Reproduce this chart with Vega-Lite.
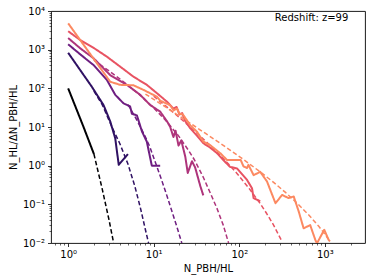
{
  "$schema": "https://vega.github.io/schema/vega-lite/v6.json",
  "width": 314,
  "height": 232,
  "autosize": {"type": "none"},
  "padding": {"left": 51, "top": 11, "right": 9, "bottom": 37},
  "background": "white",
  "config": {
    "view": {"stroke": "#000000", "strokeWidth": 0.9},
    "font": "DejaVu Sans",
    "axis": {"domain": false, "grid": false, "labelFont": "DejaVu Sans", "titleFont": "DejaVu Sans", "labelFontSize": 10, "titleFontSize": 10, "labelColor": "#000", "titleColor": "#000", "tickColor": "#000", "titleFontWeight": "normal"}
  },
  "datasets": {
    "ann": [{"label": "Redshift: z=99", "n": 1884, "v": 5510}]
  },
  "data": {
    "values": [
      {"s": "s0", "k": "sim", "n": 1, "v": 100}, {"s": "s0", "k": "sim", "n": 1.5, "v": 10.5}, {"s": "s0", "k": "sim", "n": 2, "v": 2},
      {"s": "s0", "k": "fit", "n": 2, "v": 2}, {"s": "s0", "k": "fit", "n": 2.5, "v": 0.25}, {"s": "s0", "k": "fit", "n": 3, "v": 0.04}, {"s": "s0", "k": "fit", "n": 3.4, "v": 0.01},

      {"s": "s1", "k": "sim", "n": 1, "v": 830}, {"s": "s1", "k": "sim", "n": 1.89, "v": 110}, {"s": "s1", "k": "sim", "n": 2.59, "v": 37}, {"s": "s1", "k": "sim", "n": 3.1, "v": 14}, {"s": "s1", "k": "sim", "n": 3.55, "v": 5.1}, {"s": "s1", "k": "sim", "n": 3.9, "v": 1.05}, {"s": "s1", "k": "sim", "n": 5, "v": 2},
      {"s": "s1", "k": "fit", "n": 2, "v": 85}, {"s": "s1", "k": "fit", "n": 2.5, "v": 38}, {"s": "s1", "k": "fit", "n": 3, "v": 15}, {"s": "s1", "k": "fit", "n": 3.5, "v": 7}, {"s": "s1", "k": "fit", "n": 4, "v": 3.8}, {"s": "s1", "k": "fit", "n": 5, "v": 1.1}, {"s": "s1", "k": "fit", "n": 6, "v": 0.3}, {"s": "s1", "k": "fit", "n": 7, "v": 0.08}, {"s": "s1", "k": "fit", "n": 8, "v": 0.022}, {"s": "s1", "k": "fit", "n": 8.7, "v": 0.01},

      {"s": "s2", "k": "sim", "n": 1, "v": 1380}, {"s": "s2", "k": "sim", "n": 1.38, "v": 760}, {"s": "s2", "k": "sim", "n": 1.98, "v": 400}, {"s": "s2", "k": "sim", "n": 2.83, "v": 166}, {"s": "s2", "k": "sim", "n": 3.55, "v": 68}, {"s": "s2", "k": "sim", "n": 4.43, "v": 41}, {"s": "s2", "k": "sim", "n": 5.3, "v": 34}, {"s": "s2", "k": "sim", "n": 5.56, "v": 22}, {"s": "s2", "k": "sim", "n": 6.36, "v": 20}, {"s": "s2", "k": "sim", "n": 7.3, "v": 7.6}, {"s": "s2", "k": "sim", "n": 8.3, "v": 4.2}, {"s": "s2", "k": "sim", "n": 9.5, "v": 1}, {"s": "s2", "k": "sim", "n": 11.9, "v": 1},
      {"s": "s2", "k": "fit", "n": 5, "v": 38}, {"s": "s2", "k": "fit", "n": 6, "v": 19}, {"s": "s2", "k": "fit", "n": 7, "v": 10}, {"s": "s2", "k": "fit", "n": 8, "v": 5.5}, {"s": "s2", "k": "fit", "n": 9, "v": 3.1}, {"s": "s2", "k": "fit", "n": 10, "v": 1.6}, {"s": "s2", "k": "fit", "n": 12, "v": 0.52}, {"s": "s2", "k": "fit", "n": 14, "v": 0.19}, {"s": "s2", "k": "fit", "n": 17, "v": 0.05}, {"s": "s2", "k": "fit", "n": 19, "v": 0.023}, {"s": "s2", "k": "fit", "n": 21.3, "v": 0.01},

      {"s": "s3", "k": "sim", "n": 1, "v": 2000}, {"s": "s3", "k": "sim", "n": 1.38, "v": 1090}, {"s": "s3", "k": "sim", "n": 1.98, "v": 600}, {"s": "s3", "k": "sim", "n": 3.1, "v": 220}, {"s": "s3", "k": "sim", "n": 4.86, "v": 123}, {"s": "s3", "k": "sim", "n": 6.95, "v": 68}, {"s": "s3", "k": "sim", "n": 9.1, "v": 37}, {"s": "s3", "k": "sim", "n": 11.9, "v": 25}, {"s": "s3", "k": "sim", "n": 14.3, "v": 14}, {"s": "s3", "k": "sim", "n": 15.6, "v": 10}, {"s": "s3", "k": "sim", "n": 17, "v": 5.5}, {"s": "s3", "k": "sim", "n": 18, "v": 8}, {"s": "s3", "k": "sim", "n": 19.5, "v": 3.3}, {"s": "s3", "k": "sim", "n": 21, "v": 4.5}, {"s": "s3", "k": "sim", "n": 23.4, "v": 1.7}, {"s": "s3", "k": "sim", "n": 25, "v": 0.65}, {"s": "s3", "k": "sim", "n": 28, "v": 1.3}, {"s": "s3", "k": "sim", "n": 30.5, "v": 0.9}, {"s": "s3", "k": "sim", "n": 35, "v": 0.3}, {"s": "s3", "k": "sim", "n": 38, "v": 0.17},
      {"s": "s3", "k": "fit", "n": 2, "v": 533}, {"s": "s3", "k": "fit", "n": 3, "v": 283}, {"s": "s3", "k": "fit", "n": 4, "v": 177}, {"s": "s3", "k": "fit", "n": 5, "v": 120}, {"s": "s3", "k": "fit", "n": 7, "v": 65}, {"s": "s3", "k": "fit", "n": 10, "v": 31}, {"s": "s3", "k": "fit", "n": 14, "v": 14.3}, {"s": "s3", "k": "fit", "n": 19.5, "v": 5.9}, {"s": "s3", "k": "fit", "n": 25.5, "v": 2.5}, {"s": "s3", "k": "fit", "n": 30, "v": 1.4}, {"s": "s3", "k": "fit", "n": 38, "v": 0.5}, {"s": "s3", "k": "fit", "n": 45.7, "v": 0.2}, {"s": "s3", "k": "fit", "n": 54.7, "v": 0.08}, {"s": "s3", "k": "fit", "n": 65, "v": 0.029}, {"s": "s3", "k": "fit", "n": 75, "v": 0.01},

      {"s": "s4", "k": "sim", "n": 1, "v": 3000}, {"s": "s4", "k": "sim", "n": 1.38, "v": 1780}, {"s": "s4", "k": "sim", "n": 2, "v": 1100}, {"s": "s4", "k": "sim", "n": 2.83, "v": 660}, {"s": "s4", "k": "sim", "n": 4.06, "v": 363}, {"s": "s4", "k": "sim", "n": 5.8, "v": 200}, {"s": "s4", "k": "sim", "n": 8.3, "v": 123}, {"s": "s4", "k": "sim", "n": 10.9, "v": 75}, {"s": "s4", "k": "sim", "n": 14.3, "v": 45}, {"s": "s4", "k": "sim", "n": 17, "v": 30}, {"s": "s4", "k": "sim", "n": 18.5, "v": 33}, {"s": "s4", "k": "sim", "n": 20, "v": 21}, {"s": "s4", "k": "sim", "n": 21.5, "v": 23}, {"s": "s4", "k": "sim", "n": 23, "v": 15}, {"s": "s4", "k": "sim", "n": 26.7, "v": 9.3}, {"s": "s4", "k": "sim", "n": 32, "v": 6}, {"s": "s4", "k": "sim", "n": 38, "v": 3.8}, {"s": "s4", "k": "sim", "n": 45, "v": 3.0}, {"s": "s4", "k": "sim", "n": 55, "v": 2.1}, {"s": "s4", "k": "sim", "n": 65, "v": 1.4}, {"s": "s4", "k": "sim", "n": 78, "v": 0.93}, {"s": "s4", "k": "sim", "n": 94, "v": 0.85}, {"s": "s4", "k": "sim", "n": 102, "v": 0.69}, {"s": "s4", "k": "sim", "n": 123, "v": 0.43}, {"s": "s4", "k": "sim", "n": 141, "v": 0.26}, {"s": "s4", "k": "sim", "n": 147, "v": 0.145}, {"s": "s4", "k": "sim", "n": 176, "v": 0.12},
      {"s": "s4", "k": "fit", "n": 10, "v": 63}, {"s": "s4", "k": "fit", "n": 14, "v": 34}, {"s": "s4", "k": "fit", "n": 20, "v": 17.5}, {"s": "s4", "k": "fit", "n": 29, "v": 8.5}, {"s": "s4", "k": "fit", "n": 40, "v": 4.4}, {"s": "s4", "k": "fit", "n": 55, "v": 2.24}, {"s": "s4", "k": "fit", "n": 78, "v": 1.0}, {"s": "s4", "k": "fit", "n": 94, "v": 0.63}, {"s": "s4", "k": "fit", "n": 130, "v": 0.26}, {"s": "s4", "k": "fit", "n": 176, "v": 0.104}, {"s": "s4", "k": "fit", "n": 210, "v": 0.057}, {"s": "s4", "k": "fit", "n": 252, "v": 0.029}, {"s": "s4", "k": "fit", "n": 285, "v": 0.017}, {"s": "s4", "k": "fit", "n": 318, "v": 0.0107},

      {"s": "s5", "k": "sim", "n": 1, "v": 4800}, {"s": "s5", "k": "sim", "n": 3.1, "v": 148}, {"s": "s5", "k": "sim", "n": 4.06, "v": 123}, {"s": "s5", "k": "sim", "n": 5.8, "v": 120}, {"s": "s5", "k": "sim", "n": 7.6, "v": 91}, {"s": "s5", "k": "sim", "n": 10.9, "v": 61}, {"s": "s5", "k": "sim", "n": 11.9, "v": 48}, {"s": "s5", "k": "sim", "n": 14.3, "v": 40}, {"s": "s5", "k": "sim", "n": 15.6, "v": 36}, {"s": "s5", "k": "sim", "n": 17.1, "v": 27}, {"s": "s5", "k": "sim", "n": 18.7, "v": 30}, {"s": "s5", "k": "sim", "n": 20, "v": 22}, {"s": "s5", "k": "sim", "n": 22, "v": 21}, {"s": "s5", "k": "sim", "n": 26.8, "v": 11}, {"s": "s5", "k": "sim", "n": 32, "v": 7.6}, {"s": "s5", "k": "sim", "n": 38, "v": 4.2}, {"s": "s5", "k": "sim", "n": 45.7, "v": 3.4}, {"s": "s5", "k": "sim", "n": 60, "v": 2.1}, {"s": "s5", "k": "sim", "n": 72, "v": 1.4}, {"s": "s5", "k": "sim", "n": 104, "v": 1.4}, {"s": "s5", "k": "sim", "n": 112, "v": 0.96}, {"s": "s5", "k": "sim", "n": 123, "v": 0.87}, {"s": "s5", "k": "sim", "n": 128, "v": 1.05}, {"s": "s5", "k": "sim", "n": 147, "v": 0.57}, {"s": "s5", "k": "sim", "n": 176, "v": 0.69}, {"s": "s5", "k": "sim", "n": 211, "v": 0.39}, {"s": "s5", "k": "sim", "n": 265, "v": 0.107}, {"s": "s5", "k": "sim", "n": 317, "v": 0.175}, {"s": "s5", "k": "sim", "n": 377, "v": 0.145}, {"s": "s5", "k": "sim", "n": 433, "v": 0.16}, {"s": "s5", "k": "sim", "n": 496, "v": 0.065}, {"s": "s5", "k": "sim", "n": 565, "v": 0.024}, {"s": "s5", "k": "sim", "n": 675, "v": 0.029}, {"s": "s5", "k": "sim", "n": 775, "v": 0.012}, {"s": "s5", "k": "sim", "n": 810, "v": 0.0098}, {"s": "s5", "k": "sim", "n": 985, "v": 0.022}, {"s": "s5", "k": "sim", "n": 1110, "v": 0.012}, {"s": "s5", "k": "sim", "n": 1150, "v": 0.011},
      {"s": "s5", "k": "fit", "n": 8, "v": 71}, {"s": "s5", "k": "fit", "n": 10, "v": 52}, {"s": "s5", "k": "fit", "n": 14, "v": 32}, {"s": "s5", "k": "fit", "n": 20, "v": 19}, {"s": "s5", "k": "fit", "n": 29, "v": 11.1}, {"s": "s5", "k": "fit", "n": 40, "v": 6.9}, {"s": "s5", "k": "fit", "n": 55, "v": 4.3}, {"s": "s5", "k": "fit", "n": 78, "v": 2.54}, {"s": "s5", "k": "fit", "n": 112, "v": 1.44}, {"s": "s5", "k": "fit", "n": 176, "v": 0.69}, {"s": "s5", "k": "fit", "n": 250, "v": 0.375}, {"s": "s5", "k": "fit", "n": 350, "v": 0.2}, {"s": "s5", "k": "fit", "n": 475, "v": 0.107}, {"s": "s5", "k": "fit", "n": 650, "v": 0.053}, {"s": "s5", "k": "fit", "n": 850, "v": 0.027}, {"s": "s5", "k": "fit", "n": 1000, "v": 0.017}, {"s": "s5", "k": "fit", "n": 1150, "v": 0.011}
    ]
  },
  "layer": [
    {
      "mark": {"type": "line", "clip": true, "strokeJoin": "round", "strokeCap": "butt"},
      "encoding": {
        "x": {
          "field": "n", "type": "quantitative",
          "scale": {"type": "log", "domain": [0.63, 2950], "nice": false},
          "axis": {
            "title": "N_PBH/HL", "titlePadding": 4,
            "values": [0.7, 0.8, 0.9, 1, 2, 3, 4, 5, 6, 7, 8, 9, 10, 20, 30, 40, 50, 60, 70, 80, 90, 100, 200, 300, 400, 500, 600, 700, 800, 900, 1000, 2000],
            "labelExpr": "datum.value == 1 ? '10⁰' : datum.value == 10 ? '10¹' : datum.value == 100 ? '10²' : datum.value == 1000 ? '10³' : ''",
            "tickSize": {"condition": {"test": "datum.value == 1 || datum.value == 10 || datum.value == 100 || datum.value == 1000", "value": 3.5}, "value": 2},
            "tickWidth": {"condition": {"test": "datum.value == 1 || datum.value == 10 || datum.value == 100 || datum.value == 1000", "value": 0.8}, "value": 0.6},
            "labelPadding": 3, "labelFlush": false, "labelOverlap": false
          }
        },
        "y": {
          "field": "v", "type": "quantitative",
          "scale": {"type": "log", "domain": [0.01, 10000], "nice": false},
          "axis": {
            "title": "N_HL/ΔN_PBH/HL", "titlePadding": 4,
            "values": [0.01, 0.02, 0.03, 0.04, 0.05, 0.06, 0.07, 0.08, 0.09, 0.1, 0.2, 0.3, 0.4, 0.5, 0.6, 0.7, 0.8, 0.9, 1, 2, 3, 4, 5, 6, 7, 8, 9, 10, 20, 30, 40, 50, 60, 70, 80, 90, 100, 200, 300, 400, 500, 600, 700, 800, 900, 1000, 2000, 3000, 4000, 5000, 6000, 7000, 8000, 9000, 10000],
            "labelExpr": "datum.value == 0.01 ? '10⁻²' : datum.value == 0.1 ? '10⁻¹' : datum.value == 1 ? '10⁰' : datum.value == 10 ? '10¹' : datum.value == 100 ? '10²' : datum.value == 1000 ? '10³' : datum.value == 10000 ? '10⁴' : ''",
            "tickSize": {"condition": {"test": "indexof([0.01, 0.1, 1, 10, 100, 1000, 10000], datum.value) >= 0", "value": 3.5}, "value": 2},
            "tickWidth": {"condition": {"test": "indexof([0.01, 0.1, 1, 10, 100, 1000, 10000], datum.value) >= 0", "value": 0.8}, "value": 0.6},
            "labelPadding": 3, "labelFlush": false, "labelOverlap": false
          }
        },
        "color": {
          "field": "s", "type": "nominal", "legend": null,
          "scale": {"domain": ["s0", "s1", "s2", "s3", "s4", "s5"], "range": ["#000004", "#2f1163", "#6e1e81", "#ae347b", "#e85362", "#fc8961"]}
        },
        "strokeDash": {
          "field": "k", "type": "nominal", "legend": null,
          "scale": {"domain": ["sim", "fit"], "range": [[1, 0], [4.5, 2.5]]}
        },
        "strokeWidth": {
          "field": "k", "type": "nominal", "legend": null,
          "scale": {"domain": ["sim", "fit"], "range": [2, 1.5]}
        }
      }
    },
    {
      "data": {"name": "ann"},
      "mark": {"type": "text", "align": "right", "baseline": "alphabetic", "fontSize": 10, "font": "DejaVu Sans", "color": "#000"},
      "encoding": {
        "x": {"field": "n", "type": "quantitative"},
        "y": {"field": "v", "type": "quantitative"},
        "text": {"field": "label"}
      }
    }
  ]
}
